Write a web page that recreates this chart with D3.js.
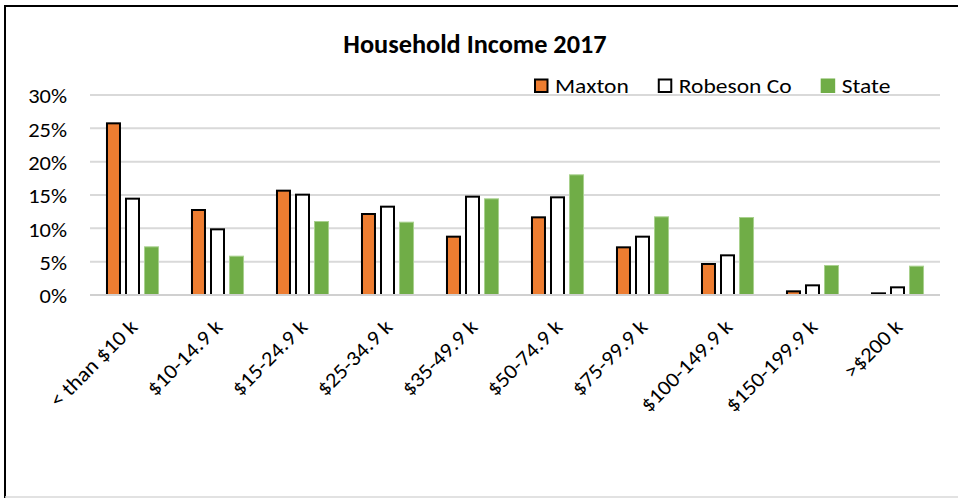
<!DOCTYPE html>
<html>
<head>
<meta charset="utf-8">
<script src="https://cdn.jsdelivr.net/npm/d3@7"></script>
<style>
  html, body { margin: 0; padding: 0; background: #fff; }
  svg { display: block; }
  text { font-family: Carlito, Lato, "Open Sans", sans-serif; fill: #000; }
</style>
</head>
<body>
<svg id="chart" width="958" height="498"></svg>
<script>
// Household income distribution, 2017 (share of households, %)
const categories = ["< than $10 k", "$10-14.9 k", "$15-24.9 k", "$25-34.9 k", "$35-49.9 k",
                    "$50-74.9 k", "$75-99.9 k", "$100-149.9 k", "$150-199.9 k", ">$200 k"];
const seriesNames = ["Maxton", "Robeson Co", "State"];
const maxton  = [25.9, 12.9, 15.8, 12.3, 8.9, 11.8, 7.3, 4.8, 0.7, 0.4];
const robeson = [14.6, 10.0, 15.2, 13.4, 14.9, 14.8, 8.9, 6.1, 1.6, 1.3];
const state   = [7.3, 5.9, 11.1, 11.0, 14.5, 18.1, 11.8, 11.7, 4.5, 4.4];
const yTicks  = [0, 5, 10, 15, 20, 25, 30];

const seriesValues = [maxton, robeson, state];
const seriesStyle = [
  { fill: "#ED7D31", stroke: "#000", sw: 2 },
  { fill: "#FFFFFF", stroke: "#000", sw: 2 },
  { fill: "#70AD47", stroke: "#A9D18E", sw: 1 }
];

const svg = d3.select("#chart");

// outer frame of the chart object
svg.append("line").attr("x1", 5).attr("x2", 958).attr("y1", 6).attr("y2", 6)
  .attr("stroke", "#000").attr("stroke-width", 2);
svg.append("line").attr("x1", 5).attr("x2", 5).attr("y1", 5).attr("y2", 498)
  .attr("stroke", "#000").attr("stroke-width", 2);
svg.append("line").attr("x1", 5).attr("x2", 958).attr("y1", 497).attr("y2", 497)
  .attr("stroke", "#d9d9d9").attr("stroke-width", 1.5);

const plot = { left: 90, right: 940, top: 95, bottom: 295 };

const x0 = d3.scaleBand().domain(categories)
  .range([plot.left, plot.right]).paddingInner(0.376).paddingOuter(0.188);
const x1 = d3.scaleBand().domain(seriesNames)
  .range([0, x0.bandwidth()]).paddingInner(0.211);
const y = d3.scaleLinear().domain([0, 30]).range([plot.bottom, plot.top]);

// horizontal gridlines
svg.append("g").selectAll("line").data(yTicks).join("line")
  .attr("x1", plot.left).attr("x2", plot.right)
  .attr("y1", d => y(d)).attr("y2", d => y(d))
  .attr("stroke", "#d9d9d9").attr("stroke-width", 2);

// y axis labels
svg.append("g").selectAll("text").data(yTicks).join("text")
  .attr("transform", d => `translate(67,${y(d)}) scale(1.07,1)`)
  .attr("text-anchor", "end")
  .attr("dy", "0.4em")
  .attr("font-size", 21)
  .text(d => d + "%");

// bars
const groups = svg.append("g").selectAll("g").data(categories).join("g")
  .attr("transform", d => `translate(${x0(d)},0)`);

seriesNames.forEach((name, si) => {
  const st = seriesStyle[si];
  groups.append("rect")
    .attr("x", x1(name) + st.sw / 2)
    .attr("width", x1.bandwidth() - st.sw)
    .attr("y", (d, i) => y(seriesValues[si][i]) + st.sw / 2)
    .attr("height", (d, i) => Math.max(0, y(0) - y(seriesValues[si][i]) - st.sw / 2))
    .attr("fill", st.fill)
    .attr("stroke", st.stroke)
    .attr("stroke-width", st.sw);
});

// category axis baseline
svg.append("line").attr("x1", plot.left).attr("x2", plot.right)
  .attr("y1", y(0)).attr("y2", y(0)).attr("stroke", "#d0d0d0").attr("stroke-width", 2);

// rotated category labels
svg.append("g").selectAll("text").data(categories).join("text")
  .attr("transform", d => `translate(${x0(d) + x0.bandwidth() / 2 + 1},${323}) rotate(-45) scale(1.08,1)`)
  .attr("text-anchor", "end")
  .attr("dy", "0.35em")
  .attr("font-size", 21)
  .text(d => d);

// title
svg.append("text")
  .attr("x", 475).attr("y", 53).attr("text-anchor", "middle")
  .attr("font-size", 26.3).attr("font-weight", "bold").text("Household Income 2017");

// legend
const legend = svg.append("g");
let lx = 534;
seriesNames.forEach((name, si) => {
  const st = seriesStyle[si];
  if (si < 2) {
    legend.append("rect").attr("x", lx + 1).attr("y", 79.5).attr("width", 12.5).attr("height", 12.5)
      .attr("fill", st.fill).attr("stroke", "#000").attr("stroke-width", 2);
  } else {
    legend.append("rect").attr("x", lx).attr("y", 78.5).attr("width", 14.5).attr("height", 14.5)
      .attr("fill", st.fill);
  }
  const t = legend.append("text").attr("transform", `translate(${lx + 21},93) scale(1.12,1)`)
    .attr("font-size", 21).text(name);
  lx += 21 + t.node().getComputedTextLength() * 1.12 + 29;
});
</script>
</body>
</html>
